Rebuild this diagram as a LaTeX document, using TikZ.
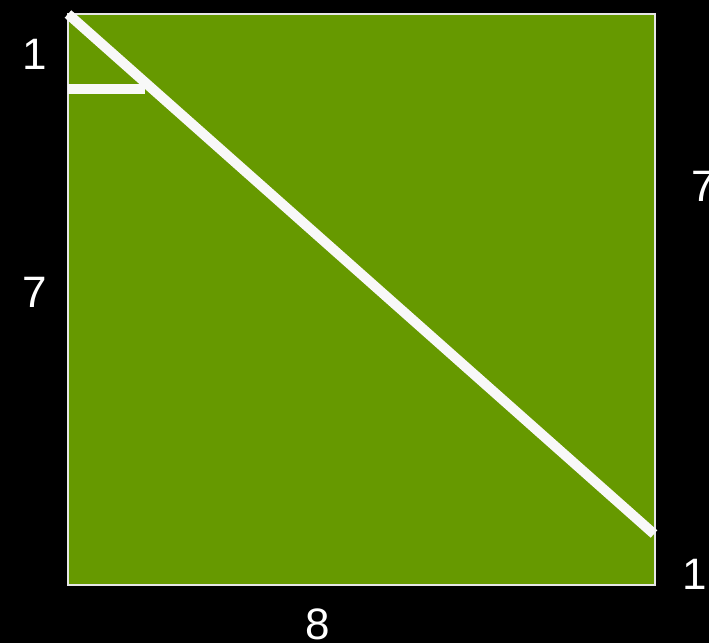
\documentclass[tikz,border=0pt]{standalone}
\usepackage{fontspec}
\setmainfont{Liberation Sans}
\definecolor{boxgreen}{HTML}{669900}
\definecolor{lineWhite}{HTML}{F8F8F8}
\definecolor{edgeGray}{HTML}{E6E6E6}
\begin{document}
\begin{tikzpicture}[x=1pt,y=-1pt,
  lbl/.style={text=white,font=\fontsize{44}{44}\selectfont,inner sep=0pt},
  bar/.style={draw=lineWhite,line width=10pt}]
\fill[black] (0,0) rectangle (709,643);
\useasboundingbox (0,0) rectangle (709,643);
\coordinate (tl) at (68,14);
\coordinate (br) at (655,585);
\coordinate (dEnd) at (654,534);
\coordinate (hL) at (68,89);
\coordinate (hR) at (145,89);
\filldraw[fill=boxgreen,draw=edgeGray,line width=1.5pt] (tl) rectangle (br);
\draw[bar] (hL) -- (hR);
\draw[bar] (tl) -- (dEnd);
\node[lbl] (a1) at (35,54) {1};
\node[lbl] (a7) at (35,292) {7};
\node[lbl,anchor=west] (b7) at (691,186) {7};
\node[lbl] (b1) at (695,574) {1};
\node[lbl] (c8) at (318,624) {8};
\end{tikzpicture}
\end{document}
